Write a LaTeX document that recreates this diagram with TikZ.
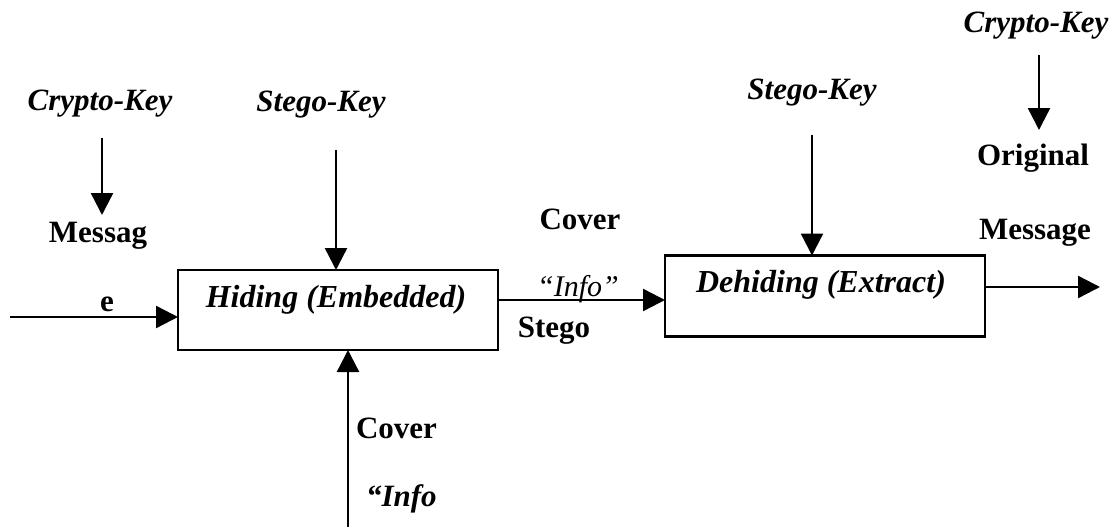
\documentclass[tikz,border=0pt]{standalone}
\usepackage{fontspec}
\setmainfont{Liberation Serif}
\usetikzlibrary{arrows.meta}
\begin{document}
\begin{tikzpicture}[x=1pt,y=-1pt,
  every node/.style={inner sep=0pt,outer sep=0pt},
  key/.style={font=\fontsize{31}{33}\selectfont\bfseries\itshape},
  btext/.style={font=\fontsize{32}{34}\selectfont\bfseries\itshape},
  lbl/.style={font=\fontsize{31}{33}\selectfont\bfseries},
  ilbl/.style={font=\fontsize{30}{32}\selectfont\itshape},
  blk/.style={draw,line width=2.4pt},
  arr/.style={line width=2.4pt,-{Triangle[length=22pt,width=22pt]}}]
\useasboundingbox (0,0) rectangle (1117,527);
% boxes
\node[blk,minimum width=320pt,minimum height=80pt] (hide) at (338,310) {};
\node[btext] (htext) at (336,300) {Hiding (Embedded)};
\node[blk,minimum width=320pt,minimum height=81pt] (dehide) at (825,296) {};
\node[btext] (dtext) at (821,285) {Dehiding (Extract)};
% labels
\node[key] (ck1) at (100,104) {Crypto-Key};
\node[lbl] (msg1) at (98,236) {Messag};
\node[lbl] (e1) at (107,304) {e};
\node[key] (sk1) at (321,105) {Stego-Key};
\node[lbl,anchor=west] (cov1) at (356,428) {Cover};
\node[key,anchor=west] (info1) at (366,499) {“Info};
\node[lbl] (cov2) at (580,219) {Cover};
\node[ilbl] (info2) at (578,289) {“Info”};
\node[lbl] (stego) at (554,331) {Stego};
\node[key] (sk2) at (812,93) {Stego-Key};
\node[key] (ck2) at (1036,26) {Crypto-Key};
\node[lbl] (orig) at (1033,158) {Original};
\node[lbl] (omsg) at (1035,233) {Message};
% coordinates
\coordinate (ck1a) at (102,138);
\coordinate (ck1b) at (102,215);
\coordinate (inl) at (10,317);
\coordinate (sk1a) at (336,150);
\coordinate (botin) at (348,527);
\coordinate (midy) at (0,300);
\coordinate (sk2a) at (812,135);
\coordinate (ck2a) at (1039,55);
\coordinate (ck2b) at (1039,130);
\coordinate (outr) at (1100,287);
% connectors
\draw[arr] (ck1a) -- (ck1b);
\draw[arr] (inl) -- (inl -| hide.west);
\draw[arr] (sk1a) -- (sk1a |- hide.north);
\draw[arr] (botin) -- (botin |- hide.south);
\draw[arr] (hide.east |- midy) -- (dehide.west |- midy);
\draw[arr] (sk2a) -- (sk2a |- dehide.north);
\draw[arr] (ck2a) -- (ck2b);
\draw[arr] (dehide.east |- outr) -- (outr);
\end{tikzpicture}
\end{document}
